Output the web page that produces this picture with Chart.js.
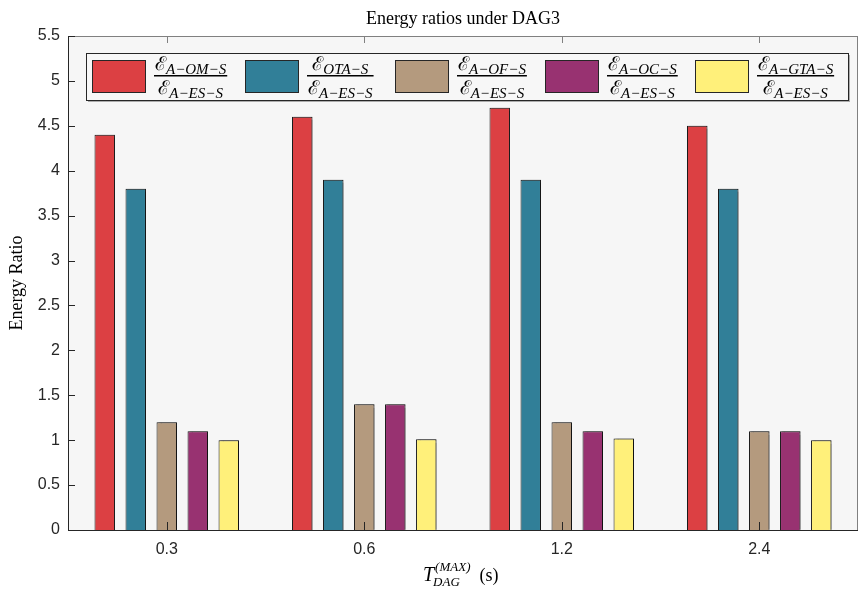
<!DOCTYPE html>
<html>
<head>
<meta charset="utf-8">
<script src="https://cdn.jsdelivr.net/npm/chart.js@4/dist/chart.umd.min.js"></script>
<style>
  html, body { margin: 0; padding: 0; background: #fff; }
  #wrap { width: 859px; height: 591px; position: relative; }
</style>
</head>
<body>
<div id="wrap"><canvas id="chart_energyRatiosDag3"></canvas></div>
<script>
// data
const categories = ['0.3', '0.6', '1.2', '2.4'];
const numeratorNames = ['A\u2212OM\u2212S', 'OTA\u2212S', 'A\u2212OF\u2212S', 'A\u2212OC\u2212S', 'A\u2212GTA\u2212S'];
const denominatorName = 'A\u2212ES\u2212S';
const omValues = [4.4, 4.6, 4.7, 4.5];
const otaValues = [3.8, 3.9, 3.9, 3.8];
const ofValues = [1.2, 1.4, 1.2, 1.1];
const ocValues = [1.1, 1.4, 1.1, 1.1];
const gtaValues = [1.0, 1.01, 1.02, 1.0];
const yMax = 5.5;
const yStep = 0.5;

const colors = ['#dc4043', '#317f98', '#b49a7e', '#983271', '#fff07a'];
const seriesValues = [omValues, otaValues, ofValues, ocValues, gtaValues];

const SERIF = '"Liberation Serif", "DejaVu Serif", serif';
const SANS = '"Liberation Sans", Arial, sans-serif';
const SCRIPT_FONT = '19px "DejaVu Serif", serif';
const SUB_FONT = 'italic 15px ' + SERIF;

function drawScriptE(ctx, x, y, sub) {
    ctx.font = SCRIPT_FONT;
    ctx.fillText('\u2130', x, y);
    let w = ctx.measureText('\u2130').width;
    ctx.font = SUB_FONT;
    ctx.fillText(sub, x + w, y + 4);
}
function measureScriptE(ctx, sub) {
    ctx.font = SCRIPT_FONT;
    let w = ctx.measureText('\u2130').width;
    ctx.font = SUB_FONT;
    return w + ctx.measureText(sub).width;
}

const decorPlugin = {
    id: 'decor',
    beforeDraw: (chart) => {
        const ctx = chart.ctx;
        const a = chart.chartArea;
        ctx.save();
        ctx.fillStyle = '#ffffff';
        ctx.fillRect(0, 0, chart.width, chart.height);
        ctx.fillStyle = '#f6f6f6';
        ctx.fillRect(a.left, a.top, a.right - a.left, a.bottom - a.top);
        ctx.restore();
    },
    beforeDatasetsDraw: (chart) => {
        const ctx = chart.ctx;
        ctx.save();
        ctx.shadowColor = 'rgba(0,0,0,0.35)';
        ctx.shadowOffsetX = 2;
        ctx.shadowOffsetY = 0;
        ctx.shadowBlur = 1;
    },
    afterDatasetsDraw: (chart) => {
        chart.ctx.restore();
    },
    afterDraw: (chart) => {
        const ctx = chart.ctx;
        const a = chart.chartArea;
        const ys = chart.scales.y;
        const xs = chart.scales.x;
        ctx.save();
        // frame
        ctx.lineWidth = 1;
        ctx.strokeStyle = '#808080';
        ctx.beginPath();
        ctx.moveTo(a.left, a.top + 0.5); ctx.lineTo(a.right, a.top + 0.5);
        ctx.moveTo(a.right - 0.5, a.top); ctx.lineTo(a.right - 0.5, a.bottom);
        ctx.stroke();
        ctx.strokeStyle = '#262626';
        ctx.beginPath();
        ctx.moveTo(a.left + 0.5, a.top); ctx.lineTo(a.left + 0.5, a.bottom);
        ctx.moveTo(a.left, a.bottom + 0.5); ctx.lineTo(a.right, a.bottom + 0.5);
        ctx.stroke();
        // inward ticks
        ctx.beginPath();
        for (let v = 0; v <= yMax + 1e-9; v += yStep) {
            const py = Math.round(ys.getPixelForValue(v)) + 0.5;
            ctx.moveTo(a.left, py); ctx.lineTo(a.left + 7, py);
        }
        categories.forEach((c, i) => {
            const px = Math.round(xs.getPixelForValue(i)) + 0.5;
            ctx.moveTo(px, a.bottom); ctx.lineTo(px, a.bottom - 8);
        });
        ctx.stroke();
        ctx.strokeStyle = '#808080';
        ctx.beginPath();
        categories.forEach((c, i) => {
            const px = Math.round(xs.getPixelForValue(i)) + 0.5;
            ctx.moveTo(px, a.top); ctx.lineTo(px, a.top + 7);
        });
        ctx.stroke();

        // title
        ctx.fillStyle = '#000';
        ctx.textBaseline = 'alphabetic';
        ctx.textAlign = 'center';
        ctx.font = '18px ' + SERIF;
        ctx.fillText('Energy ratios under DAG3', (a.left + a.right) / 2, 24);

        // y-axis title
        ctx.save();
        ctx.translate(22, (a.top + a.bottom) / 2);
        ctx.rotate(-Math.PI / 2);
        ctx.font = '18px ' + SERIF;
        ctx.fillText('Energy Ratio', 0, 0);
        ctx.restore();

        // x-axis title: T_DAG^(MAX) (s)
        ctx.textAlign = 'left';
        let x0 = 423, yb = 581;
        ctx.font = 'italic 20px ' + SERIF;
        ctx.fillText('T', x0, yb);
        let tw = ctx.measureText('T').width;
        ctx.font = 'italic 13px ' + SERIF;
        ctx.fillText('(MAX)', x0 + tw + 1, yb - 10);
        let supW = ctx.measureText('(MAX)').width;
        ctx.fillText('DAG', x0 + tw - 1, yb + 5);
        let subW = ctx.measureText('DAG').width;
        ctx.font = '18px ' + SERIF;
        ctx.fillText('(s)', x0 + tw + Math.max(supW, subW) + 10, yb);

        // legend box
        const lx = 86, ly = 53, lw = 762, lh = 47;
        ctx.fillStyle = 'rgba(0,0,0,0.3)';
        ctx.fillRect(lx + 2, ly + 2, lw, lh);
        ctx.fillStyle = '#f7f7f7';
        ctx.fillRect(lx, ly, lw, lh);
        ctx.strokeStyle = '#262626';
        ctx.lineWidth = 1;
        ctx.strokeRect(lx + 0.5, ly + 0.5, lw, lh);
        const swatchX = [92, 245, 395, 545, 695];
        numeratorNames.forEach((name, i) => {
            const sx = swatchX[i];
            ctx.fillStyle = colors[i];
            ctx.fillRect(sx, 60, 54, 33);
            ctx.strokeStyle = '#262626';
            ctx.strokeRect(sx + 0.5, 60.5, 53, 32);
            const fx = sx + 62;
            const wn = measureScriptE(ctx, name);
            const wd = measureScriptE(ctx, denominatorName);
            const wl = Math.max(wn, wd) + 2;
            ctx.fillStyle = '#000';
            drawScriptE(ctx, fx + (wl - wn) / 2, 70, name);
            drawScriptE(ctx, fx + (wl - wd) / 2, 94, denominatorName);
            ctx.fillRect(fx, 75, wl, 1.5);
        });
        ctx.restore();
    }
};

const datasets = seriesValues.map((vals, i) => ({
    label: numeratorNames[i],
    data: vals,
    backgroundColor: colors[i],
    borderColor: '#1a1a1a',
    borderWidth: 1,
    borderSkipped: 'bottom',
    categoryPercentage: 0.785,
    barPercentage: 0.66
}));

const chart_energyRatiosDag3 = new Chart(document.getElementById('chart_energyRatiosDag3'), {
    type: 'bar',
    data: {
        labels: categories,
        datasets: datasets
    },
    options: {
        animation: false,
        responsive: true,
        maintainAspectRatio: false,
        layout: { padding: { top: 36, right: 1, left: 0, bottom: 0 } },
        plugins: {
            legend: { display: false },
            title: { display: false },
            tooltip: { enabled: false }
        },
        scales: {
            x: {
                grid: { display: false, drawTicks: false },
                border: { display: false },
                ticks: {
                    color: '#262626',
                    font: { family: SANS, size: 16 },
                    padding: 10
                },
                afterFit: (scale) => { scale.height = 61; }
            },
            y: {
                min: 0,
                max: yMax,
                grid: { display: false, drawTicks: false },
                border: { display: false },
                ticks: {
                    stepSize: yStep,
                    color: '#262626',
                    font: { family: SANS, size: 16 },
                    padding: 8,
                    callback: (v) => String(Math.round(v * 10) / 10)
                },
                afterFit: (scale) => { scale.width = 68; }
            }
        }
    },
    plugins: [decorPlugin]
});
</script>
</body>
</html>
